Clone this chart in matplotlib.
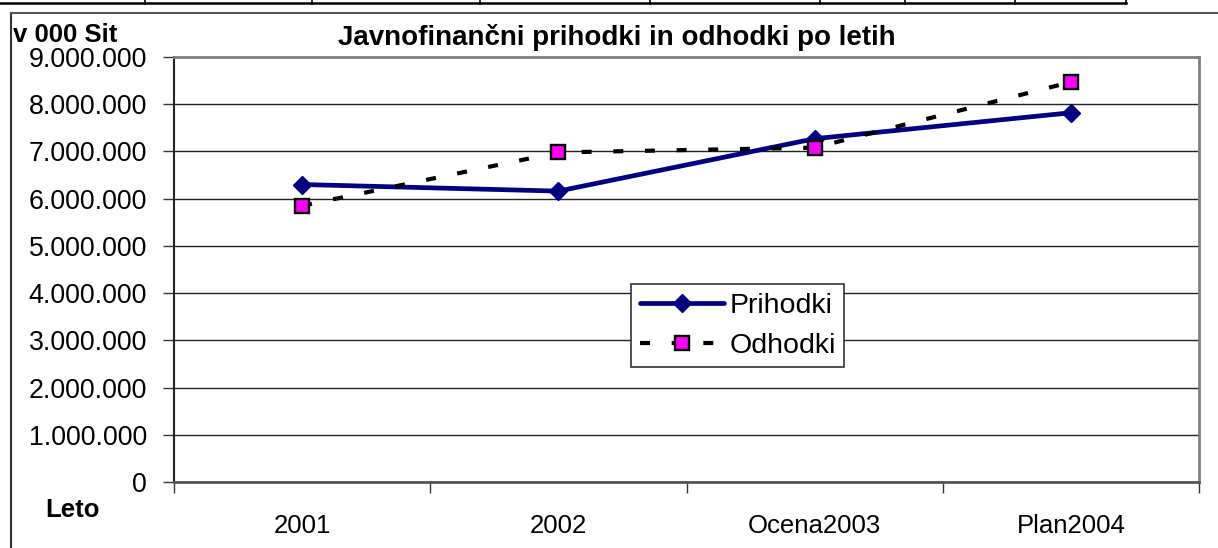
import matplotlib
matplotlib.use("Agg")
import matplotlib.pyplot as plt
from matplotlib.lines import Line2D
from matplotlib.ticker import FuncFormatter, MultipleLocator

plt.rcParams['font.family'] = ['Liberation Sans', 'DejaVu Sans']

categories = ["2001", "2002", "Ocena2003", "Plan2004"]
prihodki = [6300000, 6160000, 7270000, 7820000]
odhodki = [5850000, 6980000, 7080000, 8470000]
title = "Javnofinančni prihodki in odhodki po letih"
y_unit = "v 000 Sit"
x_name = "Leto"

W, H = 1218, 548
fig = plt.figure(figsize=(W / 100, H / 100), dpi=100)
fig.patch.set_facecolor("white")

def fx(px):
    return px / W

def fy(py):
    return 1 - py / H

# axes placement
L, R, T, B = 174, 1199, 57, 482
ax = fig.add_axes([fx(L), fy(B), fx(R - L), (B - T) / H])

x = list(range(len(categories)))
ax.plot(x, prihodki, color="#000080", lw=3.4, marker="D", ms=9.5,
        mfc="#000080", mec="#000080", label="Prihodki", zorder=4,
        solid_joinstyle="round", solid_capstyle="round")
ax.plot(x, odhodki, color="black", lw=3, dashes=(2.4, 5.2), marker="s", ms=9.5,
        mfc="#FF00FF", mec="black", mew=1.7, label="Odhodki", zorder=5,
        dash_capstyle="butt")

ax.set_xlim(-0.5, len(categories) - 0.5)
ax.set_ylim(0, 9000000)
ax.yaxis.set_major_locator(MultipleLocator(1000000))
ax.yaxis.set_major_formatter(FuncFormatter(lambda v, p: f"{int(v):,}".replace(",", ".")))
ax.set_xticks(x)
ax.set_xticklabels(categories)
ax.set_xticks([i + 0.5 for i in range(-1, len(categories))], minor=True)
ax.tick_params(axis="x", which="major", length=0, pad=23, labelsize=18.5)
ax.tick_params(axis="x", which="minor", length=8, width=1, color="#333333", direction="out")
ax.tick_params(axis="y", length=8, width=1, color="#333333", direction="out", pad=11.5, labelsize=19.3)
ax.grid(axis="y", color="#222222", lw=1)
ax.set_axisbelow(True)
for s in ["top", "right"]:
    ax.spines[s].set_color("#808080")
    ax.spines[s].set_linewidth(2)
ax.spines["bottom"].set_color("#555555")
ax.spines["bottom"].set_linewidth(2)
ax.spines["left"].set_color("#222222")
ax.spines["left"].set_linewidth(1.5)

leg = ax.legend(loc="upper left", bbox_to_anchor=((631 - L) / (R - L), (B - 284) / (B - T)),
                fontsize=20.5, frameon=True, fancybox=False, edgecolor="#333333",
                framealpha=1, borderpad=0.3, handlelength=2.98, handletextpad=0.18,
                labelspacing=0.5, borderaxespad=0)
leg.get_frame().set_linewidth(1.2)

fig.text(fx(617), fy(45), title, ha="center", va="baseline", fontsize=20, fontweight="bold")
fig.text(fx(13), fy(42), y_unit, ha="left", va="baseline", fontsize=18.5, fontweight="bold")
fig.text(fx(45), fy(517), x_name, ha="left", va="baseline", fontsize=18.5, fontweight="bold")

# outer frame
fig.add_artist(Line2D([fx(11), fx(11)], [fy(13), 0], transform=fig.transFigure, color="#333333", lw=1.5))
fig.add_artist(Line2D([fx(11), 1], [fy(13), fy(13)], transform=fig.transFigure, color="#555555", lw=1.5))
# table fragment at top
fig.add_artist(Line2D([0, fx(1126)], [fy(3), fy(3)], transform=fig.transFigure, color="black", lw=1.8))
for px in [145, 312, 480, 650, 820, 905, 1015, 1126]:
    fig.add_artist(Line2D([fx(px), fx(px)], [1, fy(4)], transform=fig.transFigure, color="black", lw=1.2))

fig.savefig("out.png", dpi=100)
